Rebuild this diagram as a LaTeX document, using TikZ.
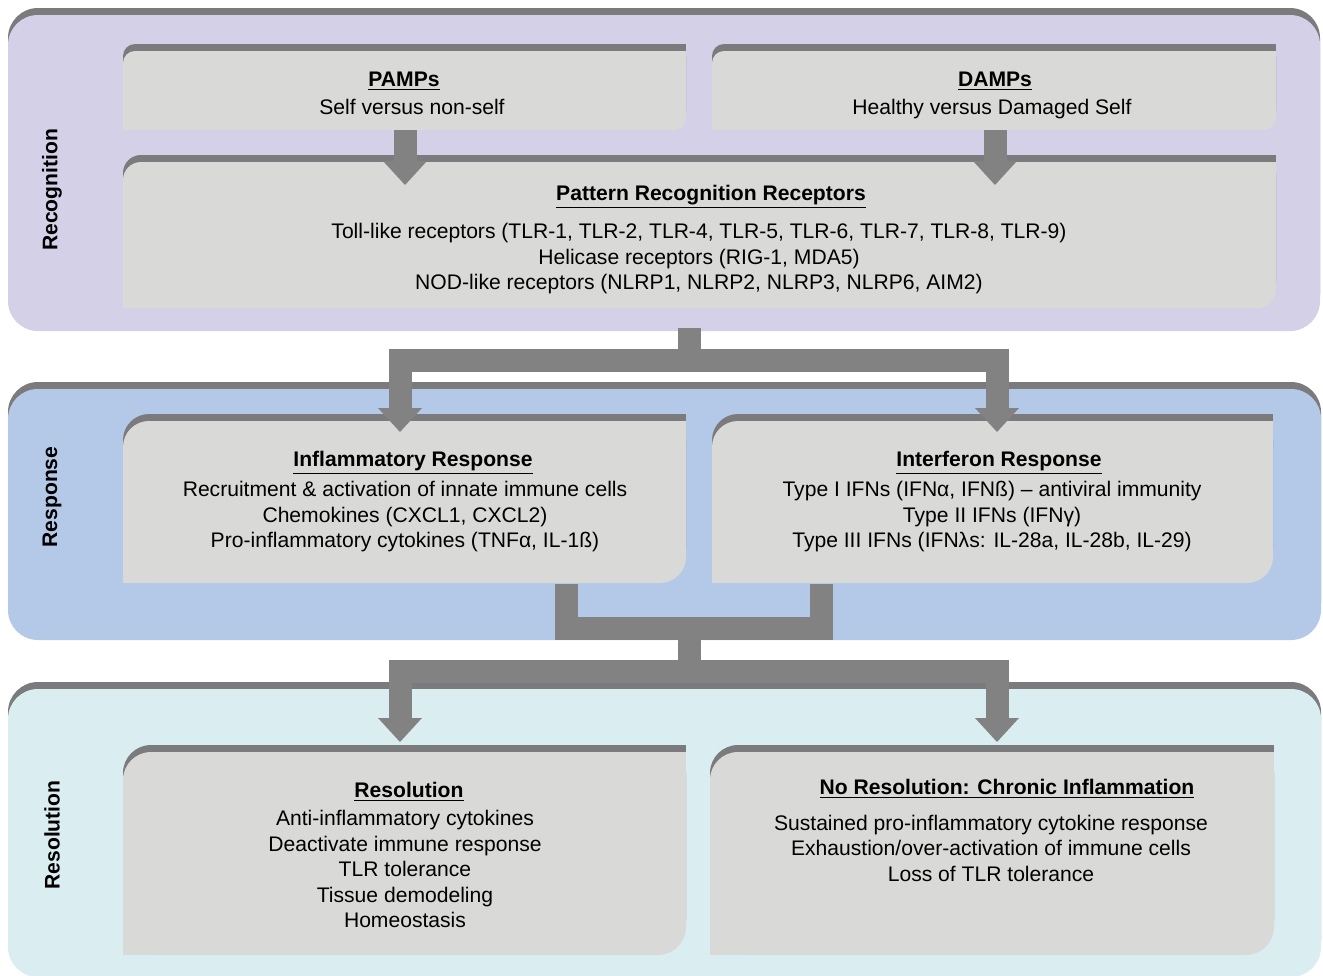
\documentclass[tikz,border=0pt]{standalone}
\usepackage{fontspec}
\setmainfont{Liberation Sans}
\usetikzlibrary{arrows.meta}

\definecolor{recogbg}{RGB}{211,208,232}
\definecolor{respbg}{RGB}{180,201,231}
\definecolor{resolbg}{RGB}{218,237,241}
\definecolor{boxgrey}{RGB}{217,217,216}
\definecolor{tabshade}{RGB}{123,123,126}
\definecolor{flowgrey}{RGB}{130,130,130}

\newcommand{\diagfont}{\fontsize{10.55}{12.75}\selectfont}

\tikzset{
  flow/.style={draw=flowgrey, line width=11.5pt, line join=miter},
  bigtip/.tip={Triangle[width=22pt,length=12pt,line width=0pt]},
  flowtip/.style={flow, -bigtip},
  forktip/.style={flow, bigtip-bigtip},
  boxtitle/.style={anchor=base, inner sep=0pt, font=\diagfont\bfseries},
  boxtext/.style={align=center, inner sep=0pt, font=\diagfont},
  side/.style={rotate=90, inner sep=0pt, font=\diagfont\bfseries},
}

\begin{document}
\begin{tikzpicture}[x=0.5pt,y=-0.5pt]
  \useasboundingbox (0,0) rectangle (1323,975);

  % Stage panels
  \fill[tabshade, rounded corners=15pt] (8,8) rectangle (1320,324);
  \fill[recogbg, rounded corners=15pt] (8,15) rectangle (1320,331);
  \fill[tabshade, rounded corners=15pt] (8,382) rectangle (1321,633);
  \fill[respbg, rounded corners=15pt] (8,389) rectangle (1321,640);
  \fill[tabshade, rounded corners=15pt] (8,682) rectangle (1321,970);
  \fill[resolbg, rounded corners=15pt] (8,689) rectangle (1321,977);

  % Grey boxes with dark top tab
  \foreach \xa/\ya/\xb/\yb/\r in {123/51/686/130/6pt, 712/51/1276/130/6pt,
      123/162/1276/308/9pt, 123/421/686/583/13pt, 712/421/1273/583/13pt,
      123/752/686/955/14pt, 710/752/1274/955/14pt}{
    \fill[tabshade, rounded corners=\r] (\xa,{\ya-7}) rectangle (\xb,{\yb-7});
    \fill[tabshade] ({\xb-30},{\ya-7}) rectangle (\xb,{\ya+23});
    \fill[boxgrey, rounded corners=\r] (\xa,\ya) rectangle (\xb,\yb);
    \fill[boxgrey] ({\xb-30},\ya) rectangle (\xb,{\ya+30});
    \fill[boxgrey] (\xa,{\yb-30}) rectangle ({\xa+30},\yb);
  }

  % Connector ends
  \coordinate (pamps-out) at (405,130);
  \coordinate (damps-out) at (995,130);
  \coordinate (prr-in-l) at (405,185);
  \coordinate (prr-in-r) at (995,185);
  \coordinate (prr-out) at (689,328);
  \coordinate (fork) at (689,360);
  \coordinate (inflam-in) at (400,432);
  \coordinate (ifn-in) at (997,432);
  \coordinate (inflam-out) at (566,584);
  \coordinate (ifn-out) at (821,584);
  \coordinate (merge) at (689,628);
  \coordinate (split) at (689,671);
  \coordinate (resol-in) at (400,742);
  \coordinate (chronic-in) at (997,742);

  % Flow arrows
  \draw[flowtip] (pamps-out) -- (prr-in-l);
  \draw[flowtip] (damps-out) -- (prr-in-r);
  \draw[flow] (prr-out) -- (fork);
  \draw[forktip] (inflam-in) |- (fork) -| (ifn-in);
  \draw[flow] (inflam-out) |- (merge) -| (ifn-out);
  \draw[flow] (merge) -- (split);
  \draw[forktip] (resol-in) |- (split) -| (chronic-in);

  % Stage labels
  \node[side] (recog-lbl) at (52,190) {Recognition};
  \node[side] (resp-lbl) at (52,497) {Response};
  \node[side] (resol-lbl) at (52,835) {Resolution};

  % Box texts
  \node[boxtitle] (pamps-ttl) at (404,86) {\underline{PAMPs}};
  \node[boxtext, anchor=base] (pamps-txt) at (412,114) {Self versus non-self};
  \node[boxtitle] (damps-ttl) at (995,86) {\underline{DAMPs}};
  \node[boxtext, anchor=base] (damps-txt) at (992,114) {Healthy versus Damaged Self};
  \node[boxtitle] (prr-ttl) at (711,200) {\underline{Pattern Recognition Receptors}};
  \node[boxtext] (prr-txt) at (699,259) {Toll-like receptors (TLR-1, TLR-2, TLR-4, TLR-5, TLR-6, TLR-7, TLR-8, TLR-9)\\
    Helicase receptors (RIG-1, MDA5)\\NOD-like receptors (NLRP1, NLRP2, NLRP3, NLRP6, AIM2)};
  \node[boxtitle] (inflam-ttl) at (413,466) {\underline{Inflammatory Response}};
  \node[boxtext] (inflam-txt) at (405,517) {Recruitment \& activation of innate immune cells\\
    Chemokines (CXCL1, CXCL2)\\Pro-inflammatory cytokines (TNFα, IL-1ß)};
  \node[boxtitle] (ifn-ttl) at (999,466) {\underline{Interferon Response}};
  \node[boxtext] (ifn-txt) at (992,517) {Type I IFNs (IFNα, IFNß) – antiviral immunity\\
    Type II IFNs (IFNγ)\\Type III IFNs (IFNλs: IL-28a, IL-28b, IL-29)};
  \node[boxtitle] (resol-ttl) at (409,797) {\underline{Resolution}};
  \node[boxtext] (resol-txt) at (405,869) {Anti-inflammatory cytokines\\Deactivate immune response\\
    TLR tolerance\\Tissue demodeling\\Homeostasis};
  \node[boxtitle] (chronic-ttl) at (1007,794) {\underline{No Resolution: Chronic Inflammation}};
  \node[boxtext] (chronic-txt) at (991,848) {Sustained pro-inflammatory cytokine response\\
    Exhaustion/over-activation of immune cells\\Loss of TLR tolerance};
\end{tikzpicture}
\end{document}
